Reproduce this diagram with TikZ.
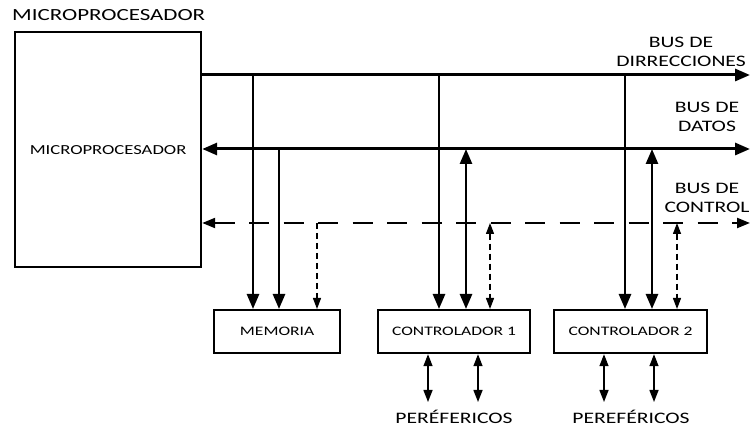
\documentclass[tikz,border=0pt]{standalone}
\usepackage{fontspec}
\setmainfont{Carlito}[FakeStretch=1.35]
\usetikzlibrary{arrows.meta}
\tikzset{
  box/.style={draw, line width=2.2pt, inner sep=0pt, font=\fontsize{13}{15}\selectfont},
  bus/.style={line width=3pt},
  bigboth/.style={{Triangle[length=15pt,width=12pt]}-{Triangle[length=15pt,width=12pt]}},
  ctl/.style={line width=2.2pt, dash pattern=on 20pt off 14.5pt},
  ctltip/.style={{Triangle[length=13pt,width=10pt]}-{Triangle[length=13pt,width=10pt]}},
  tap/.style={line width=2.6pt, -{Triangle[length=15pt,width=12pt]}},
  tap2/.style={line width=2.6pt, {Triangle[length=15pt,width=12pt]}-{Triangle[length=15pt,width=12pt]}},
  dtap/.style={line width=1.3pt, dash pattern=on 6pt off 4pt},
  dtip/.style={-{Triangle[length=11pt,width=8pt]}},
  dtip2/.style={{Triangle[length=11pt,width=8pt]}-{Triangle[length=11pt,width=8pt]}},
  per/.style={line width=1.4pt, {Triangle[length=12pt,width=9pt]}-{Triangle[length=12pt,width=9pt]}},
  lbl/.style={font=\fontsize{16}{19}\selectfont, inner sep=0pt, align=center},
}
\begin{document}
\begin{tikzpicture}[x=1pt,y=-1pt]
\useasboundingbox (0,0) rectangle (750,427);
% microprocessor
\node[box, minimum width=186pt, minimum height=235pt, anchor=north west] (mp) at (14,31) {\fontsize{13.8}{15}\selectfont MICROPROCESADOR};
\node[lbl, anchor=west, font=\fontsize{17}{19}\selectfont] (mpt) at (12,15) {MICROPROCESADOR};
% lower boxes
\node[box, minimum width=126pt, minimum height=43pt, anchor=north west] (mem) at (213,309) {MEMORIA};
\node[box, minimum width=152pt, minimum height=43pt, anchor=north west] (c1) at (377,309) {CONTROLADOR 1};
\node[box, minimum width=153pt, minimum height=43pt, anchor=north west] (c2) at (553,309) {CONTROLADOR 2};
% bus endpoints
\coordinate (a0) at (mp.east |- 0,75);
\coordinate (a1) at (750,75);
\coordinate (d0) at (mp.east |- 0,149);
\coordinate (d1) at (750,149);
\coordinate (k0) at (mp.east |- 0,223);
\coordinate (k1) at (750,223);
\draw[bus, -{Triangle[length=15pt,width=12pt]}] (a0) -- (a1);
\draw[bus, bigboth] (d0) -- (d1);
\draw[ctl, ctltip] (k0) -- (k1);
% bus labels
\node[lbl] (la) at (681,52) {BUS DE\\DIRRECCIONES};
\node[lbl] (ld) at (707,117) {BUS DE\\DATOS};
\node[lbl] (lc) at (707,198) {BUS DE\\CONTROL};
% taps: memory
\coordinate (ma) at (253,75);
\coordinate (md) at (279,149);
\coordinate (mk) at (317,223);
\draw[tap] (ma) -- (ma |- mem.north);
\draw[tap] (md) -- (md |- mem.north);
\draw[dtap, dtip] (mk) -- (mk |- mem.north);
% taps: controller 1
\coordinate (c1a) at (439,75);
\coordinate (c1d) at (466,149);
\coordinate (c1k) at (490,223);
\draw[tap] (c1a) -- (c1a |- c1.north);
\draw[tap2] (c1d) -- (c1d |- c1.north);
\draw[dtap, dtip2] (c1k) -- (c1k |- c1.north);
% taps: controller 2
\coordinate (c2a) at (625,75);
\coordinate (c2d) at (652,149);
\coordinate (c2k) at (677,223);
\draw[tap] (c2a) -- (c2a |- c2.north);
\draw[tap2] (c2d) -- (c2d |- c2.north);
\draw[dtap, dtip2] (c2k) -- (c2k |- c2.north);
% peripherals
\node[lbl] (p1) at (454,417) {PERÉFERICOS};
\node[lbl] (p2) at (631,417) {PEREFÉRICOS};
\coordinate (p1a) at (428,402);
\coordinate (p1b) at (478,402);
\coordinate (p2a) at (604,402);
\coordinate (p2b) at (654,402);
\draw[per] (p1a |- c1.south) -- (p1a);
\draw[per] (p1b |- c1.south) -- (p1b);
\draw[per] (p2a |- c2.south) -- (p2a);
\draw[per] (p2b |- c2.south) -- (p2b);
\end{tikzpicture}
\end{document}
